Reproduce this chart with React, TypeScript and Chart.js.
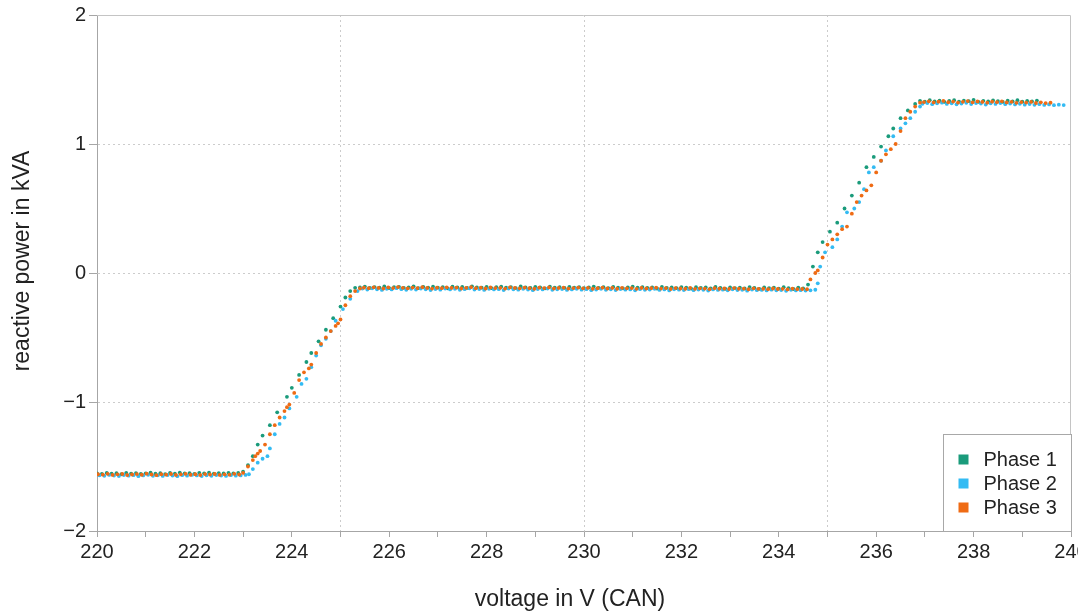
import React, { useEffect, useRef } from "react";
import { Chart, registerables } from "chart.js";

Chart.register(...registerables);

const seriesLabels = ["Phase 1", "Phase 2", "Phase 3"];
const seriesColors = ["#1a9b7b", "#33bbf3", "#ef6b14"];

const xTickValues = [220, 221, 222, 223, 224, 225, 226, 227, 228, 229, 230, 231, 232, 233, 234, 235, 236, 237, 238, 239, 240];
const xLabelValues = [220, 222, 224, 226, 228, 230, 232, 234, 236, 238, 240];
const xGridValues = [225, 230, 235];
const yTickValues = [-2, -1, 0, 1, 2];
const yGridValues = [-1, 0, 1];

const xAxisTitle = "voltage in V (CAN)";
const yAxisTitle = "reactive power in kVA";

// Phase 1 (voltage V, reactive power kVA)
const phase1: [number, number][] = [
  [220.0, -1.553], [220.1, -1.557], [220.2, -1.55], [220.3, -1.556], [220.4, -1.552], [220.5, -1.56], [220.6, -1.549], [220.7, -1.555], [220.8, -1.551], [220.9, -1.558],
  [221.0, -1.553], [221.1, -1.548], [221.2, -1.556], [221.3, -1.552], [221.4, -1.559], [221.5, -1.55], [221.6, -1.555], [221.7, -1.547], [221.8, -1.554], [221.9, -1.551],
  [222.0, -1.557], [222.1, -1.549], [222.2, -1.553], [222.3, -1.548], [222.4, -1.556], [222.5, -1.551], [222.6, -1.554], [222.7, -1.549], [222.8, -1.553], [222.9, -1.55],
  [223.0, -1.54], [223.1, -1.49], [223.2, -1.42], [223.3, -1.33], [223.4, -1.26], [223.55, -1.18], [223.7, -1.08], [223.9, -0.96], [224.0, -0.89], [224.15, -0.79],
  [224.3, -0.69], [224.4, -0.62], [224.55, -0.53], [224.7, -0.44], [224.85, -0.35], [225.0, -0.26], [225.1, -0.19], [225.2, -0.14], [225.3, -0.115],
  [225.4, -0.112], [225.5, -0.105], [225.6, -0.116], [225.7, -0.109], [225.8, -0.113], [225.9, -0.104], [226.0, -0.118], [226.1, -0.11], [226.2, -0.107], [226.3, -0.115],
  [226.4, -0.111], [226.5, -0.103], [226.6, -0.117], [226.7, -0.108], [226.8, -0.113], [226.9, -0.106], [227.0, -0.114], [227.1, -0.109], [227.2, -0.119], [227.3, -0.105],
  [227.4, -0.112], [227.5, -0.108], [227.6, -0.116], [227.7, -0.103], [227.8, -0.111], [227.9, -0.114], [228.0, -0.107], [228.1, -0.118], [228.2, -0.11], [228.3, -0.106],
  [228.4, -0.113], [228.5, -0.109], [228.6, -0.117], [228.7, -0.104], [228.8, -0.112], [228.9, -0.115], [229.0, -0.108], [229.1, -0.111], [229.2, -0.119], [229.3, -0.106],
  [229.4, -0.113], [229.5, -0.11], [229.6, -0.116], [229.7, -0.107], [229.8, -0.114], [229.9, -0.109], [230.0, -0.118], [230.1, -0.112], [230.2, -0.105], [230.3, -0.115],
  [230.4, -0.11], [230.5, -0.117], [230.6, -0.108], [230.7, -0.113], [230.8, -0.119], [230.9, -0.111], [231.0, -0.106], [231.1, -0.114], [231.2, -0.109], [231.3, -0.116],
  [231.4, -0.112], [231.5, -0.12], [231.6, -0.107], [231.7, -0.115], [231.8, -0.111], [231.9, -0.118], [232.0, -0.109], [232.1, -0.114], [232.2, -0.121], [232.3, -0.11],
  [232.4, -0.116], [232.5, -0.112], [232.6, -0.119], [232.7, -0.108], [232.8, -0.115], [232.9, -0.122], [233.0, -0.111], [233.1, -0.117], [233.2, -0.113], [233.3, -0.12],
  [233.4, -0.109], [233.5, -0.116], [233.6, -0.123], [233.7, -0.112], [233.8, -0.118], [233.9, -0.114], [234.0, -0.121], [234.1, -0.11], [234.2, -0.117], [234.3, -0.124],
  [234.4, -0.113], [234.5, -0.119],
  [234.6, -0.09], [234.7, 0.05], [234.8, 0.16], [234.9, 0.24], [235.05, 0.32], [235.2, 0.39], [235.35, 0.5], [235.5, 0.6], [235.65, 0.7], [235.8, 0.82],
  [235.95, 0.9], [236.1, 0.98], [236.25, 1.06], [236.35, 1.12], [236.5, 1.2], [236.65, 1.26], [236.8, 1.31],
  [236.9, 1.335], [237.0, 1.328], [237.1, 1.34], [237.2, 1.331], [237.3, 1.337], [237.4, 1.326], [237.5, 1.334], [237.6, 1.339], [237.7, 1.329], [237.8, 1.336],
  [237.9, 1.332], [238.0, 1.341], [238.1, 1.327], [238.2, 1.335], [238.3, 1.33], [238.4, 1.338], [238.5, 1.333], [238.6, 1.326], [238.7, 1.336], [238.8, 1.331],
  [238.9, 1.339], [239.0, 1.328], [239.1, 1.334], [239.2, 1.33], [239.3, 1.337],
];

// Phase 2
const phase2: [number, number][] = [
  [220.05, -1.568], [220.15, -1.572], [220.25, -1.565], [220.35, -1.57], [220.45, -1.574], [220.55, -1.566], [220.65, -1.571], [220.75, -1.567], [220.85, -1.575], [220.95, -1.569],
  [221.05, -1.564], [221.15, -1.572], [221.25, -1.568], [221.35, -1.573], [221.45, -1.566], [221.55, -1.57], [221.65, -1.575], [221.75, -1.567], [221.85, -1.571], [221.95, -1.565],
  [222.05, -1.569], [222.15, -1.574], [222.25, -1.568], [222.35, -1.572], [222.45, -1.566], [222.55, -1.57], [222.65, -1.573], [222.75, -1.567], [222.85, -1.571], [222.95, -1.569],
  [223.05, -1.565], [223.12, -1.56], [223.2, -1.52], [223.3, -1.47], [223.4, -1.44], [223.5, -1.42], [223.55, -1.36], [223.65, -1.25], [223.75, -1.17], [223.85, -1.12],
  [223.95, -1.05], [224.1, -0.96], [224.2, -0.86], [224.3, -0.82], [224.4, -0.73], [224.5, -0.64], [224.6, -0.56], [224.7, -0.51], [224.8, -0.45], [224.9, -0.37],
  [225.05, -0.28], [225.2, -0.2], [225.35, -0.14],
  [225.45, -0.121], [225.55, -0.128], [225.65, -0.119], [225.75, -0.126], [225.85, -0.131], [225.95, -0.122], [226.05, -0.127], [226.15, -0.118], [226.25, -0.125], [226.35, -0.13],
  [226.45, -0.123], [226.55, -0.128], [226.65, -0.12], [226.75, -0.126], [226.85, -0.132], [226.95, -0.124], [227.05, -0.129], [227.15, -0.121], [227.25, -0.127], [227.35, -0.123],
  [227.45, -0.13], [227.55, -0.125], [227.65, -0.119], [227.75, -0.128], [227.85, -0.124], [227.95, -0.131], [228.05, -0.122], [228.15, -0.127], [228.25, -0.125], [228.35, -0.132],
  [228.45, -0.12], [228.55, -0.126], [228.65, -0.129], [228.75, -0.123], [228.85, -0.128], [228.95, -0.133], [229.05, -0.124], [229.15, -0.127], [229.25, -0.121], [229.35, -0.13],
  [229.45, -0.126], [229.55, -0.124], [229.65, -0.131], [229.75, -0.127], [229.85, -0.122], [229.95, -0.129], [230.05, -0.125], [230.15, -0.133], [230.25, -0.128], [230.35, -0.123],
  [230.45, -0.13], [230.55, -0.126], [230.65, -0.132], [230.75, -0.124], [230.85, -0.129], [230.95, -0.127], [231.05, -0.134], [231.15, -0.125], [231.25, -0.13], [231.35, -0.128],
  [231.45, -0.123], [231.55, -0.131], [231.65, -0.127], [231.75, -0.135], [231.85, -0.126], [231.95, -0.129], [232.05, -0.132], [232.15, -0.125], [232.25, -0.133], [232.35, -0.128],
  [232.45, -0.13], [232.55, -0.136], [232.65, -0.127], [232.75, -0.131], [232.85, -0.129], [232.95, -0.134], [233.05, -0.126], [233.15, -0.132], [233.25, -0.13], [233.35, -0.137],
  [233.45, -0.128], [233.55, -0.133], [233.65, -0.131], [233.75, -0.135], [233.85, -0.129], [233.95, -0.134], [234.05, -0.132], [234.15, -0.138], [234.25, -0.13], [234.35, -0.135],
  [234.45, -0.133], [234.55, -0.136], [234.65, -0.134],
  [234.75, -0.13], [234.8, -0.08], [234.85, 0.05], [234.95, 0.16], [235.1, 0.2], [235.2, 0.26], [235.3, 0.36], [235.4, 0.47], [235.55, 0.5], [235.65, 0.55],
  [235.75, 0.65], [235.85, 0.78], [235.95, 0.82], [236.1, 0.87], [236.2, 0.95], [236.35, 1.06], [236.5, 1.12], [236.6, 1.16], [236.7, 1.2], [236.8, 1.25], [236.9, 1.29],
  [236.95, 1.312], [237.05, 1.318], [237.15, 1.309], [237.25, 1.315], [237.35, 1.32], [237.45, 1.311], [237.55, 1.316], [237.65, 1.308], [237.75, 1.314], [237.85, 1.319],
  [237.95, 1.31], [238.05, 1.317], [238.15, 1.313], [238.25, 1.306], [238.35, 1.315], [238.45, 1.311], [238.55, 1.318], [238.65, 1.309], [238.75, 1.314], [238.85, 1.307],
  [238.95, 1.312], [239.05, 1.305], [239.15, 1.31], [239.25, 1.304], [239.35, 1.309], [239.45, 1.303], [239.55, 1.307], [239.65, 1.301], [239.75, 1.305], [239.85, 1.302],
];

// Phase 3
const phase3: [number, number][] = [
  [220.02, -1.56], [220.12, -1.563], [220.22, -1.557], [220.32, -1.565], [220.42, -1.561], [220.52, -1.558], [220.62, -1.566], [220.72, -1.562], [220.82, -1.559], [220.92, -1.564],
  [221.02, -1.556], [221.12, -1.562], [221.22, -1.567], [221.32, -1.56], [221.42, -1.563], [221.52, -1.558], [221.62, -1.565], [221.72, -1.561], [221.82, -1.557], [221.92, -1.564],
  [222.02, -1.56], [222.12, -1.566], [222.22, -1.559], [222.32, -1.562], [222.42, -1.558], [222.52, -1.565], [222.62, -1.561], [222.72, -1.563], [222.82, -1.557], [222.92, -1.562],
  [223.0, -1.55], [223.1, -1.5], [223.2, -1.45], [223.25, -1.42], [223.3, -1.4], [223.35, -1.38], [223.45, -1.33], [223.55, -1.25], [223.65, -1.18], [223.75, -1.12],
  [223.85, -1.07], [223.9, -1.04], [223.95, -1.02], [224.05, -0.93], [224.15, -0.83], [224.25, -0.77], [224.35, -0.74], [224.4, -0.71], [224.5, -0.62], [224.6, -0.55],
  [224.7, -0.5], [224.8, -0.45], [224.9, -0.41], [224.95, -0.39], [225.0, -0.36], [225.1, -0.25], [225.2, -0.18], [225.3, -0.14], [225.4, -0.12],
  [225.48, -0.114], [225.58, -0.118], [225.68, -0.111], [225.78, -0.116], [225.88, -0.12], [225.98, -0.112], [226.08, -0.117], [226.18, -0.109], [226.28, -0.115], [226.38, -0.119],
  [226.48, -0.113], [226.58, -0.117], [226.68, -0.11], [226.78, -0.116], [226.88, -0.121], [226.98, -0.114], [227.08, -0.118], [227.18, -0.111], [227.28, -0.116], [227.38, -0.113],
  [227.48, -0.12], [227.58, -0.115], [227.68, -0.11], [227.78, -0.118], [227.88, -0.114], [227.98, -0.12], [228.08, -0.112], [228.18, -0.117], [228.28, -0.115], [228.38, -0.121],
  [228.48, -0.111], [228.58, -0.116], [228.68, -0.119], [228.78, -0.113], [228.88, -0.118], [228.98, -0.122], [229.08, -0.114], [229.18, -0.117], [229.28, -0.112], [229.38, -0.12],
  [229.48, -0.116], [229.58, -0.114], [229.68, -0.121], [229.78, -0.117], [229.88, -0.113], [229.98, -0.119], [230.08, -0.115], [230.18, -0.122], [230.28, -0.118], [230.38, -0.114],
  [230.48, -0.12], [230.58, -0.116], [230.68, -0.122], [230.78, -0.115], [230.88, -0.119], [230.98, -0.117], [231.08, -0.123], [231.18, -0.116], [231.28, -0.12], [231.38, -0.118],
  [231.48, -0.114], [231.58, -0.121], [231.68, -0.117], [231.78, -0.124], [231.88, -0.117], [231.98, -0.12], [232.08, -0.122], [232.18, -0.116], [232.28, -0.123], [232.38, -0.119],
  [232.48, -0.121], [232.58, -0.125], [232.68, -0.118], [232.78, -0.122], [232.88, -0.12], [232.98, -0.124], [233.08, -0.117], [233.18, -0.122], [233.28, -0.121], [233.38, -0.126],
  [233.48, -0.119], [233.58, -0.123], [233.68, -0.122], [233.78, -0.125], [233.88, -0.12], [233.98, -0.124], [234.08, -0.123], [234.18, -0.127], [234.28, -0.121], [234.38, -0.125],
  [234.48, -0.124], [234.58, -0.126],
  [234.65, -0.05], [234.75, 0.0], [234.8, 0.02], [234.9, 0.12], [235.0, 0.22], [235.1, 0.26], [235.2, 0.3], [235.3, 0.34], [235.4, 0.36], [235.5, 0.46],
  [235.6, 0.55], [235.7, 0.6], [235.8, 0.64], [235.9, 0.68], [236.0, 0.78], [236.1, 0.87], [236.2, 0.92], [236.3, 0.96], [236.4, 1.0], [236.5, 1.1],
  [236.6, 1.2], [236.7, 1.25], [236.8, 1.29], [236.9, 1.32],
  [236.98, 1.325], [237.08, 1.331], [237.18, 1.322], [237.28, 1.328], [237.38, 1.334], [237.48, 1.324], [237.58, 1.329], [237.68, 1.321], [237.78, 1.327], [237.88, 1.333],
  [237.98, 1.323], [238.08, 1.33], [238.18, 1.326], [238.28, 1.32], [238.38, 1.328], [238.48, 1.324], [238.58, 1.331], [238.68, 1.322], [238.78, 1.327], [238.88, 1.319],
  [238.98, 1.325], [239.08, 1.321], [239.18, 1.326], [239.28, 1.318], [239.38, 1.323], [239.48, 1.317], [239.58, 1.32],
];

const seriesData = [phase1, phase2, phase3];

const FONT = "'Liberation Sans', Arial, Helvetica, sans-serif";
const TEXT = "#222222";

const formatNum = (v: number) => (v < 0 ? "\u2212" + Math.abs(v) : String(v));

const decorPlugin = {
  id: "decor",
  afterDatasetsDraw(chart: any) {
    const { ctx, chartArea: a } = chart;
    ctx.save();
    // frame top and right
    ctx.strokeStyle = "#c4c4c4";
    ctx.lineWidth = 1;
    ctx.beginPath();
    ctx.moveTo(a.left, Math.round(a.top) + 0.5);
    ctx.lineTo(Math.round(a.right) - 0.5, Math.round(a.top) + 0.5);
    ctx.lineTo(Math.round(a.right) - 0.5, a.bottom);
    ctx.stroke();

    // legend box
    const boxW = 128;
    const boxH = 97;
    const bx = Math.round(a.right - boxW) + 0.5;
    const by = Math.round(a.bottom - boxH) + 0.5;
    ctx.fillStyle = "#ffffff";
    ctx.fillRect(bx, by, boxW, boxH);
    ctx.strokeStyle = "#a8a8a8";
    ctx.strokeRect(bx, by, boxW, boxH);
    ctx.font = `20px ${FONT}`;
    ctx.textBaseline = "middle";
    ctx.textAlign = "left";
    chart.data.datasets.forEach((ds: any, i: number) => {
      const cy = by + 25 + i * 24;
      ctx.fillStyle = ds.backgroundColor;
      ctx.fillRect(bx + 15, cy - 5, 10, 10);
      ctx.fillStyle = TEXT;
      ctx.fillText(ds.label, bx + 40, cy + 1);
    });

    // axis titles
    ctx.fillStyle = TEXT;
    ctx.font = `23px ${FONT}`;
    ctx.textAlign = "center";
    ctx.textBaseline = "middle";
    ctx.fillText(xAxisTitle, 570, 600);
    ctx.translate(23, 261);
    ctx.rotate(-Math.PI / 2);
    ctx.fillText(yAxisTitle, 0, 0);
    ctx.restore();
  },
};

export default function App() {
  const ref = useRef<HTMLCanvasElement | null>(null);

  useEffect(() => {
    if (!ref.current) return;
    const chart = new Chart(ref.current, {
      type: "scatter",
      data: {
        datasets: seriesData.map((pts, i) => ({
          label: seriesLabels[i],
          data: pts.map(([x, y]) => ({ x, y })),
          backgroundColor: seriesColors[i],
          borderColor: seriesColors[i],
          pointRadius: 1.9,
          pointBorderWidth: 0,
          pointHoverRadius: 1.9,
          order: 3 - i,
        })),
      },
      options: {
        animation: false,
        responsive: true,
        maintainAspectRatio: false,
        events: [],
        layout: { padding: { top: 15, right: 7, left: 0, bottom: 0 } },
        plugins: {
          legend: { display: false },
          tooltip: { enabled: false },
          title: { display: false },
        },
        scales: {
          x: {
            type: "linear",
            min: 220,
            max: 240,
            afterBuildTicks: (scale: any) => {
              scale.ticks = xTickValues.map((v) => ({ value: v }));
            },
            afterFit: (scale: any) => {
              scale.height = 82;
              scale.paddingLeft = 0;
              scale.paddingRight = 0;
            },
            ticks: {
              autoSkip: false,
              maxRotation: 0,
              minRotation: 0,
              padding: 3,
              color: TEXT,
              font: { family: FONT, size: 20 },
              callback: (v: any) => (xLabelValues.includes(Number(v)) ? String(v) : ""),
            },
            grid: {
              color: (c: any) => (c.tick && xGridValues.includes(c.tick.value) ? "#cccccc" : "rgba(0,0,0,0)"),
              tickColor: "#a6a6a6",
              tickLength: 6,
              lineWidth: 1,
            },
            border: { display: true, color: "#a6a6a6", width: 1, dash: [2, 3] },
          },
          y: {
            type: "linear",
            min: -2,
            max: 2,
            afterBuildTicks: (scale: any) => {
              scale.ticks = yTickValues.map((v) => ({ value: v }));
            },
            afterFit: (scale: any) => {
              scale.width = 97;
              scale.paddingTop = 0;
              scale.paddingBottom = 0;
            },
            ticks: {
              padding: 3,
              color: TEXT,
              font: { family: FONT, size: 20 },
              callback: (v: any) => formatNum(Number(v)),
            },
            grid: {
              color: (c: any) => (c.tick && yGridValues.includes(c.tick.value) ? "#cccccc" : "rgba(0,0,0,0)"),
              tickColor: "#a6a6a6",
              tickLength: 8,
              lineWidth: 1,
            },
            border: { display: true, color: "#a6a6a6", width: 1, dash: [2, 3] },
          },
        },
      },
      plugins: [decorPlugin],
    });
    return () => chart.destroy();
  }, []);

  return (
    <div style={{ position: "absolute", left: 0, top: 0, width: 1078, height: 613 }}>
      <canvas ref={ref} />
    </div>
  );
}
